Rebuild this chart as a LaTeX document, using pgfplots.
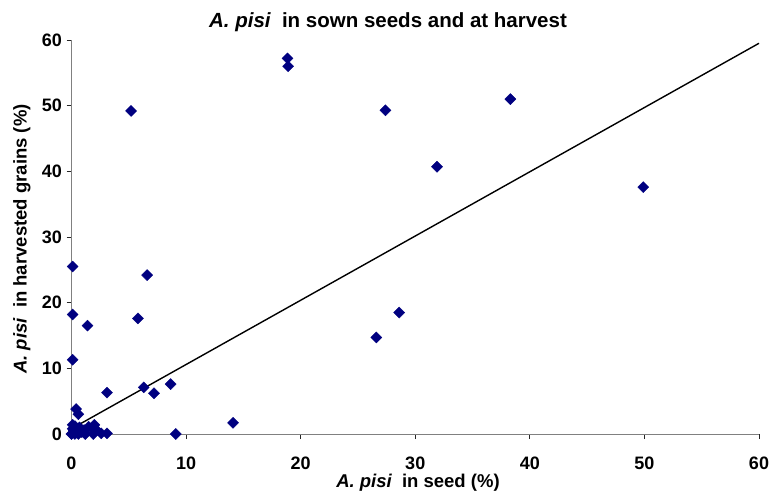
\documentclass[border=0pt]{standalone}
\usepackage{fontspec}
\setmainfont{Liberation Sans}
\usepackage{pgfplots}
\pgfplotsset{compat=1.18}

\definecolor{navy}{HTML}{000080}

\begin{document}
\begin{tikzpicture}[x=1pt,y=1pt]
\useasboundingbox (0,0) rectangle (771,493);
\begin{axis}[
    at={(71.5pt,59pt)}, anchor=south west,
    scale only axis, width=687.5pt, height=394pt,
    xmin=0, xmax=60, ymin=0, ymax=60,
    xtick={0,10,...,60}, ytick={0,10,...,60},
    axis lines*=left,
    axis line style={draw=gray, line width=1pt},
    tick style={draw=black!85, line width=0.9pt},
    tick align=outside, major tick length=5pt,
    tick label style={font=\fontsize{18}{20}\selectfont\bfseries},
    /pgf/number format/assume math mode=true,
    xticklabel style={yshift=-14pt},
    yticklabel style={xshift=-1pt},
    clip=false,
]
\addplot[only marks, mark=square*, mark size=3.9pt,
         mark options={rotate=45, fill=navy, draw=navy}]
coordinates {
  (0.1,25.5) (0.1,18.2) (0.1,11.3) (1.4,16.5) (5.2,49.2) (5.8,17.6)
  (6.6,24.2) (6.3,7.1) (7.2,6.2) (8.65,7.6) (3.1,6.3) (9.1,0)
  (14.1,1.7) (18.85,57.2) (18.9,56.0) (27.4,49.3) (26.6,14.7)
  (28.6,18.5) (31.9,40.7) (38.3,51.0) (49.9,37.6)
  (0.4,3.8) (0.6,3.0) (0.1,1.4) (0,0) (0.2,0.5) (0.3,1.2) (0.5,0.2)
  (0.7,1.0) (0.9,0.3) (1.1,0.6) (1.5,1.1) (1.8,0.9) (1.9,0) (2.2,0.6)
  (2.6,0.1) (3.1,0.1) (0.3,0) (0.6,0) (1.2,0) (2.0,1.4) (0.1,0.8)
};
% linear trend line
\addplot[black, line width=1.4pt] coordinates {(0,0.8) (60,59.5)};
\end{axis}
\node[font=\fontsize{20.5}{24}\selectfont\bfseries] at (388,471)
  {\itshape A. pisi\upshape\ \ in sown seeds and at harvest};
\node[font=\fontsize{18.5}{22}\selectfont\bfseries] at (418,10)
  {\itshape A. pisi\upshape\ \ in seed (\%)};
\node[font=\fontsize{18.5}{22}\selectfont\bfseries, rotate=90] at (22,254)
  {\itshape A. pisi\upshape\ \ in harvested grains (\%)};
\end{tikzpicture}
\end{document}
